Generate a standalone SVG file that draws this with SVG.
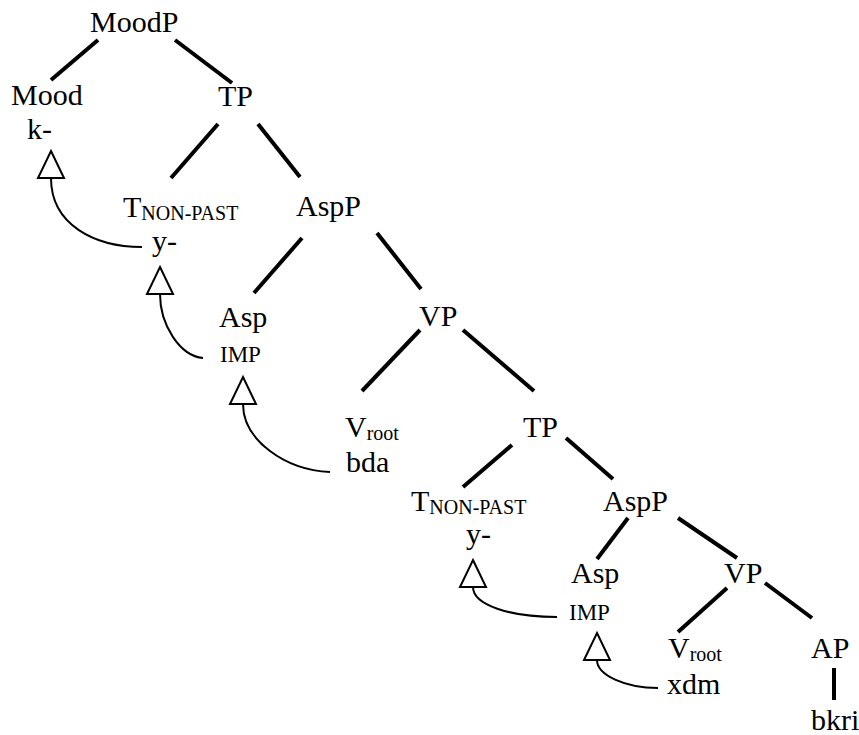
<svg xmlns="http://www.w3.org/2000/svg" width="859" height="735" viewBox="0 0 859 735" font-family="Times New Roman, Liberation Serif, DejaVu Serif, serif">
<style>
.n{font-size:30px}
.s{font-size:20px}
.i{font-size:23px}
.e line{stroke:#000;stroke-width:4}
.m path{fill:none;stroke:#000;stroke-width:2}
.t{fill:#fff;stroke:#000;stroke-width:2}
</style>
<rect width="859" height="735" fill="#fff"/>
<g id="connectors">
<g class="e">
<line x1="98" y1="40" x2="51" y2="80"/>
<line x1="175" y1="40" x2="232" y2="83"/>
<line x1="218" y1="124" x2="171" y2="178"/>
<line x1="258" y1="124" x2="300" y2="177"/>
<line x1="302" y1="238" x2="254" y2="293"/>
<line x1="377" y1="233" x2="421" y2="289"/>
<line x1="420" y1="330" x2="362" y2="391"/>
<line x1="463" y1="330" x2="534" y2="391"/>
<line x1="512" y1="445" x2="463" y2="487"/>
<line x1="566" y1="438" x2="613" y2="479"/>
<line x1="628" y1="518" x2="597" y2="559"/>
<line x1="678" y1="518" x2="737" y2="558"/>
<line x1="727" y1="588" x2="678" y2="632"/>
<line x1="765" y1="583" x2="812" y2="618"/>
<line x1="834" y1="668" x2="834" y2="700"/>
</g>
<g class="m">
<path d="M51,178 C51,225 95,247 142,247"/>
<path d="M160,294 C160,325 180,356 203,358"/>
<path d="M243,404 C243,440 285,470 330,472"/>
<path d="M473,587 C473,605 510,617 557,617"/>
<path d="M597,660 C597,675 625,688 658,688"/>
</g>
<polygon class="t" points="51,151 64,178 38,178"/>
<polygon class="t" points="160,267 173,294 147,294"/>
<polygon class="t" points="243,377 256,404 230,404"/>
<polygon class="t" points="473,560 486,587 460,587"/>
<polygon class="t" points="597,633 610,660 584,660"/>
</g>
<g id="moodp"><text class="n" x="90" y="32">MoodP</text></g>
<g id="mood"><text class="n" x="11" y="105">Mood</text><text class="n" x="27" y="139">k-</text></g>
<g id="tp1"><text class="n" x="218" y="106">TP</text></g>
<g id="t1"><text class="n" x="123" y="217">T<tspan class="s" dy="3">NON-PAST</tspan></text><text class="n" x="152" y="251">y-</text></g>
<g id="aspp1"><text class="n" x="296" y="216">AspP</text></g>
<g id="asp1"><text class="n" x="219" y="327">Asp</text><text class="i" x="220" y="362">IMP</text></g>
<g id="vp1"><text class="n" x="419" y="326">VP</text></g>
<g id="v1"><text class="n" x="345" y="437">V<tspan class="s" dy="3">root</tspan></text><text class="n" x="346" y="472">bda</text></g>
<g id="tp2"><text class="n" x="523" y="437">TP</text></g>
<g id="t2"><text class="n" x="411" y="511">T<tspan class="s" dy="3">NON-PAST</tspan></text><text class="n" x="466" y="544">y-</text></g>
<g id="aspp2"><text class="n" x="603" y="511">AspP</text></g>
<g id="asp2"><text class="n" x="571" y="583">Asp</text><text class="i" x="569" y="620">IMP</text></g>
<g id="vp2"><text class="n" x="724" y="583">VP</text></g>
<g id="v2"><text class="n" x="668" y="658">V<tspan class="s" dy="3">root</tspan></text><text class="n" x="667" y="694">xdm</text></g>
<g id="ap"><text class="n" x="811" y="658">AP</text><text class="n" x="811" y="730">bkri</text></g>
</svg>
